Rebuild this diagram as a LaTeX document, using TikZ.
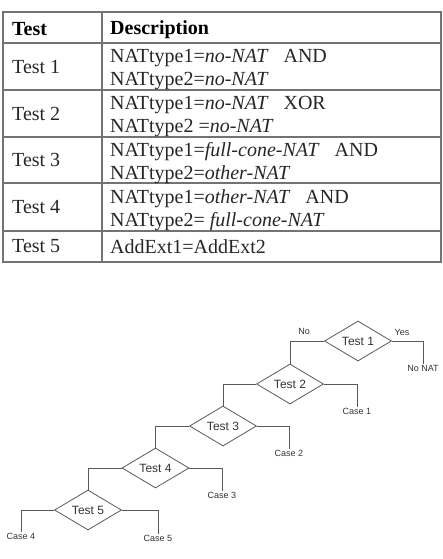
\documentclass[tikz,border=0pt]{standalone}
\usepackage{fontspec}
\setmainfont{Liberation Serif}
\newfontfamily\arialfont{Liberation Sans}
\usetikzlibrary{shapes.geometric}
\tikzset{
  grid/.style  ={draw=black!55, line width=1.1pt},
  hdr/.style   ={anchor=west, inner sep=0pt,
                 font=\fontsize{20}{23}\selectfont\bfseries},
  cell/.style  ={anchor=west, inner sep=0pt, align=left,
                 font=\fontsize{20}{23}\selectfont, text=black!85},
  dcell/.style ={cell, yshift=-3.5pt},
  test/.style  ={draw=black!65, diamond, aspect=1.7, minimum width=67pt,
                 minimum height=40pt, inner sep=0pt, line width=0.8pt,
                 font=\arialfont\fontsize{12}{14}\selectfont, text=black!80},
  leaf/.style  ={anchor=north, inner sep=1.5pt,
                 font=\arialfont\fontsize{9}{11}\selectfont, text=black!80},
  yn/.style    ={inner sep=0pt,
                 font=\arialfont\fontsize{9}{11}\selectfont, text=black!80},
  br/.style    ={draw=black!65, line width=0.8pt},
}

\begin{document}
\begin{tikzpicture}[x=1pt, y=-1pt]
  \useasboundingbox (0,0) rectangle (443,559);

  % table
  \draw[grid] (3,12) rectangle (441,262);
  \draw[grid] (102,12) -- (102,262);
  \foreach \y in {43,90,137,183,231}
    \draw[grid] (3,\y) -- (441,\y);

  \node[hdr] (h1) at (12,29.5) {Test};
  \node[hdr] (h2) at (110,29.5) {Description};

  \node[cell] (r1) at (12,66.5) {Test 1};
  \node[dcell] (d1) at (110,66.5)
    {NATtype1=\textit{no-NAT}\ \ \ AND\\NATtype2=\textit{no-NAT}};
  \node[cell] (r2) at (12,113.5) {Test 2};
  \node[dcell] (d2) at (110,113.5)
    {NATtype1=\textit{no-NAT}\ \ \ XOR\\NATtype2 =\textit{no-NAT}};
  \node[cell] (r3) at (12,160) {Test 3};
  \node[dcell] (d3) at (110,160)
    {NATtype1=\textit{full-cone-NAT}\ \ \ AND\\NATtype2=\textit{other-NAT}};
  \node[cell] (r4) at (12,207) {Test 4};
  \node[dcell] (d4) at (110,207)
    {NATtype1=\textit{other-NAT}\ \ \ AND\\NATtype2= \textit{full-cone-NAT}};
  \node[cell] (r5) at (12,246.5) {Test 5};
  \node[cell] (d5) at (110,246.5) {AddExt1=AddExt2};

  % decision chain
  \node[test] (t1) at (358,341)   {Test 1};
  \node[test] (t2) at (290,384)   {Test 2};
  \node[test] (t3) at (223,426)   {Test 3};
  \node[test] (t4) at (155.5,468) {Test 4};
  \node[test] (t5) at (88,510)    {Test 5};

  \node[leaf] (nonat) at (423,364) {No NAT};
  \node[leaf] (c1) at (357,407) {Case 1};
  \node[leaf] (c2) at (289,449) {Case 2};
  \node[leaf] (c3) at (222,491) {Case 3};
  \node[leaf] (c4) at (21,532)  {Case 4};
  \node[leaf] (c5) at (158,534) {Case 5};

  \node[yn] (no)  at (304,331) {No};
  \node[yn] (yes) at (402,332) {Yes};

  \draw[br] (t1.west) -| (t2.north);
  \draw[br] (t2.west) -| (t3.north);
  \draw[br] (t3.west) -| (t4.north);
  \draw[br] (t4.west) -| (t5.north);
  \draw[br] (t5.west) -| (c4.north);

  \draw[br] (t1.east) -| (nonat.north);
  \draw[br] (t2.east) -| (c1.north);
  \draw[br] (t3.east) -| (c2.north);
  \draw[br] (t4.east) -| (c3.north);
  \draw[br] (t5.east) -| (c5.north);
\end{tikzpicture}
\end{document}
